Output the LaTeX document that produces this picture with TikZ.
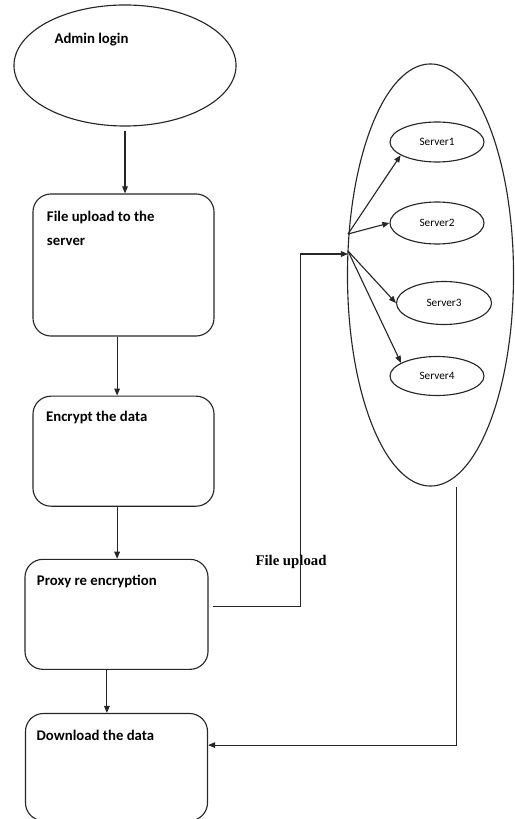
\documentclass[tikz,border=0pt]{standalone}
\usepackage{fontspec}
\setmainfont{Carlito}
\newfontfamily\timesfont{Liberation Serif}
\usetikzlibrary{arrows.meta, positioning, shapes.geometric}

\begin{document}
\begin{tikzpicture}[x=0.025cm, y=-0.025cm, >={Triangle[length=5pt, width=4pt]}, line width=0.8pt,
    flowbox/.style={draw=black!85, rounded corners=0.45cm, minimum width=4.525cm, inner sep=0pt},
    boxtext/.style={font=\bfseries\fontsize{10.5}{12.6}\selectfont, anchor=north west, inner sep=0pt, align=left},
    server/.style={draw=black!85, ellipse, minimum width=2.35cm, minimum height=1cm, inner sep=0pt, font=\fontsize{8}{10}\selectfont},
    arr/.style={->, draw=black!85}]
    \useasboundingbox (0,0) rectangle (514,819);

    \node[draw=black!85, ellipse, minimum width=5.55cm, minimum height=3.025cm] (login) at (125,65.5) {};
    \node[boxtext, anchor=west] (logintext) at (54,40) {Admin login};

    \node[flowbox, minimum height=3.55cm] (b1) at (123.5,265) {};
    \node[flowbox, minimum height=2.75cm, below=1.475cm of b1] (b2) {};
    \node[flowbox, minimum height=2.75cm, minimum width=4.575cm, below=1.3cm of b2, xshift=-0.175cm] (b3) {};
    \node[flowbox, minimum height=2.68cm, minimum width=4.55cm, below=1.075cm of b3] (b4) {};

    \node[boxtext] (t1) at ([xshift=0.35cm, yshift=-0.42cm]b1.north west) {File upload to the\\[4.5pt]server};
    \node[boxtext] (t2) at ([xshift=0.33cm, yshift=-0.38cm]b2.north west) {Encrypt the data};
    \node[boxtext] (t3) at ([xshift=0.3cm, yshift=-0.4cm]b3.north west) {Proxy re encryption};
    \node[boxtext] (t4) at ([xshift=0.28cm, yshift=-0.42cm]b4.north west) {Download the data};

    \node[font=\timesfont\bfseries\fontsize{10.5}{12}\selectfont] (uplabel) at (291,562) {File upload};

    % storage side
    \node[draw=black!85, ellipse, minimum width=4.15cm, minimum height=10.55cm] (cloud) at (430.5,275) {};
    \node[server] (s1) at (437,142) {Server1};
    \node[server, minimum height=1.05cm] (s2) at (437,223) {Server2};
    \node[server, minimum width=2.375cm, minimum height=1.075cm] (s3) at (444,303) {Server3};
    \node[server, minimum height=0.975cm] (s4) at (437,376) {Server4};

    \coordinate (hubin) at (348,254);
    \coordinate (hubA) at (348,234);
    \coordinate (hubB) at (348,251);

    \draw[arr] ([yshift=-0.1cm]login.south) -- (login.south |- b1.north);
    \draw[arr] ([xshift=-0.16cm]b1.south) -- ([xshift=-0.16cm]b1.south |- b2.north);
    \draw[arr] ([xshift=-0.16cm]b2.south) -- ([xshift=-0.16cm]b2.south |- b3.north);
    \draw[arr] ([xshift=-0.24cm]b3.south) -- ([xshift=-0.24cm]b3.south |- b4.north);

    \draw[arr] ([xshift=0.12cm, yshift=0.2cm]b3.east) -- ++(87,0) |- (hubin);
    \draw[arr] (hubA) -- (s1.200);
    \draw[arr] (hubA) -- (s2.west);
    \draw[arr] (hubB) -- (s3.west);
    \draw[arr] (hubB) -- (s4.160);

    \draw[arr] ([xshift=0.64cm]cloud.south) |- ([yshift=0.55cm]b4.east);
\end{tikzpicture}
\end{document}
